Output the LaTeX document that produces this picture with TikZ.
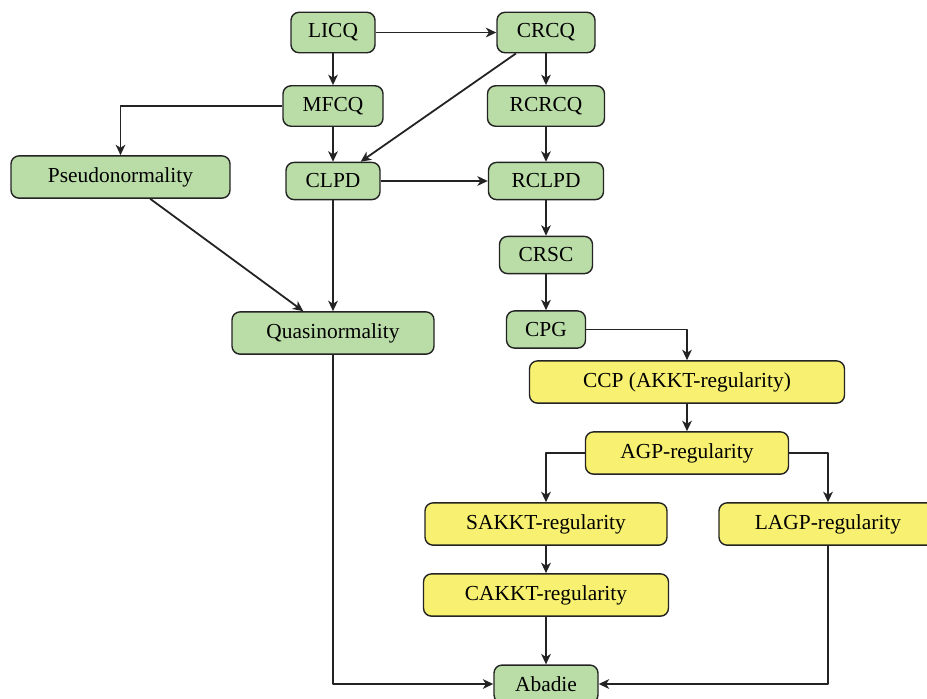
\documentclass[tikz,border=0pt]{standalone}
\usepackage{fontspec}
\setmainfont{Liberation Serif}
\usetikzlibrary{arrows.meta}
\definecolor{cqgreen}{RGB}{186,221,168}
\definecolor{regyellow}{RGB}{247,240,112}
\definecolor{edgegray}{RGB}{35,35,35}
\begin{document}
\begin{tikzpicture}[x=0.5pt,y=-0.5pt,>={Stealth[length=5.2pt,width=4.8pt,inset=1.5pt]},
  font=\fontsize{10.7}{13}\selectfont, line join=round,
  cq/.style={draw=edgegray,line width=0.7pt,rounded corners=4pt,inner xsep=2pt,inner ysep=5.7pt,fill=cqgreen},
  reg/.style={cq,fill=regyellow},
  imp/.style={->,draw=edgegray,line width=0.9pt}]
\clip (0,0) rectangle (927,698);
% constraint qualifications
\node[cq,minimum width=42pt] (LICQ) at (333,32.5) {LICQ};
\node[cq,minimum width=49pt] (CRCQ) at (546,32.5) {CRCQ};
\node[cq,minimum width=50pt] (MFCQ) at (333,106) {MFCQ};
\node[cq,minimum width=58.5pt] (RCRCQ) at (546,106) {RCRCQ};
\node[cq,minimum width=109.5pt] (pseudo) at (120.5,177) {Pseudonormality};
\node[cq,minimum width=47pt] (CLPD) at (333,181) {CLPD};
\node[cq,minimum width=57.5pt] (RCLPD) at (546,181) {RCLPD};
\node[cq,minimum width=46.5pt] (CRSC) at (546,255) {CRSC};
\node[cq,minimum width=101pt] (quasi) at (333,333) {Quasinormality};
\node[cq,minimum width=39.5pt] (CPG) at (546,329.5) {CPG};
% sequential conditions
\node[reg,minimum width=157.5pt] (CCP) at (687,382) {CCP (AKKT-regularity)};
\node[reg,minimum width=101.5pt] (AGP) at (687,453) {AGP-regularity};
\node[reg,minimum width=121pt] (SAKKT) at (546,524) {SAKKT-regularity};
\node[reg,minimum width=109pt] (LAGP) at (828,524) {LAGP-regularity};
\node[reg,minimum width=122.5pt] (CAKKT) at (546,595) {CAKKT-regularity};
\node[cq,minimum width=52pt] (abadie) at (546,684) {Abadie};
% implications
\draw[imp] (LICQ)--(CRCQ);
\draw[imp] (LICQ)--(MFCQ);
\draw[imp] (CRCQ)--(RCRCQ);
\draw[imp] (CRCQ)--(CLPD);
\draw[imp] (MFCQ)-|(pseudo);
\draw[imp] (MFCQ)--(CLPD);
\draw[imp] (CLPD)--(RCLPD);
\draw[imp] (RCRCQ)--(RCLPD);
\draw[imp] (RCLPD)--(CRSC);
\draw[imp] (CRSC)--(CPG);
\draw[imp] (pseudo)--(quasi);
\draw[imp] (CLPD)--(quasi);
\draw[imp] (CPG)-|(CCP);
\draw[imp] (CCP)--(AGP);
\draw[imp] (AGP)-|(SAKKT);
\draw[imp] (AGP)-|(LAGP);
\draw[imp] (SAKKT)--(CAKKT);
\draw[imp] (CAKKT)--(abadie);
\draw[imp] (quasi)|-(abadie);
\draw[imp] (LAGP)|-(abadie);
\end{tikzpicture}
\end{document}
